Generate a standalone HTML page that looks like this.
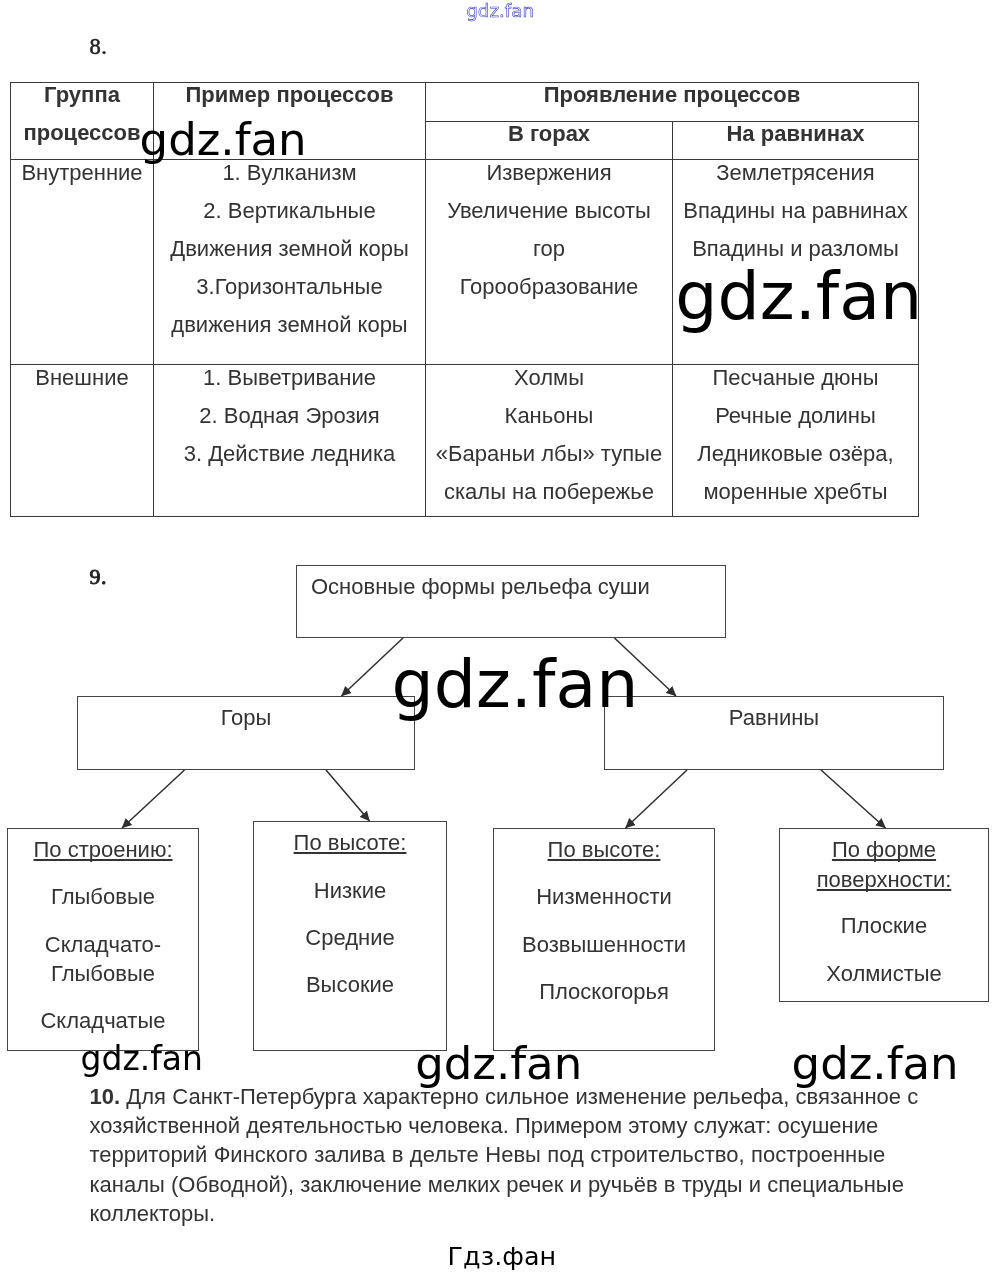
<!DOCTYPE html>
<html lang="ru">
<head>
<meta charset="utf-8">
<title>gdz.fan</title>
<style>
html,body{margin:0;padding:0;background:#fff;}
body{width:1000px;height:1276px;position:relative;overflow:hidden;font-family:"Liberation Sans",Arial,sans-serif;font-size:22px;color:#333;}
.abs{position:absolute;}
.ln{position:absolute;background:#3a3a3a;}
.c{position:absolute;text-align:center;white-space:nowrap;line-height:38px;}
.c div{height:38px;}
.b{font-weight:bold;}
.box{position:absolute;border:1px solid #444;box-sizing:border-box;}
.t{position:absolute;white-space:nowrap;text-align:center;line-height:29px;height:29px;}
.u{text-decoration:underline;text-decoration-skip-ink:none;text-decoration-thickness:2px;text-underline-offset:2px;}
.wm{position:absolute;font-family:"DejaVu Sans",Verdana,sans-serif;color:#000;white-space:nowrap;line-height:1;}
.p{position:absolute;left:89.5px;white-space:nowrap;line-height:29px;height:29px;color:#333;}
</style>
</head>
<body>
<div id="page" style="position:absolute;left:0;top:0;width:1000px;height:1276px;will-change:transform;">

<!-- top outline watermark -->
<div class="wm" id="wm0" style="left:466.2px;top:1.6px;font-size:18.3px;color:#f8f8ff;-webkit-text-stroke:0.6px #3c3cc8;">gdz.fan</div>

<div class="abs" id="n8" style="left:89.5px;top:35px;font-family:'Liberation Serif',serif;font-size:22.5px;line-height:24px;color:#222;-webkit-text-stroke:0.55px #222;letter-spacing:0.6px;">8.</div>

<!-- table lines -->
<div class="ln" style="left:10px;top:82px;width:909px;height:1px;"></div>
<div class="ln" style="left:425px;top:121px;width:494px;height:1px;"></div>
<div class="ln" style="left:10px;top:159px;width:909px;height:1px;"></div>
<div class="ln" style="left:10px;top:364px;width:909px;height:1px;"></div>
<div class="ln" style="left:10px;top:516px;width:909px;height:1px;"></div>
<div class="ln" style="left:10px;top:82px;width:1px;height:435px;"></div>
<div class="ln" style="left:153px;top:82px;width:1px;height:435px;"></div>
<div class="ln" style="left:425px;top:82px;width:1px;height:435px;"></div>
<div class="ln" style="left:672px;top:121px;width:1px;height:396px;"></div>
<div class="ln" style="left:918px;top:82px;width:1px;height:435px;"></div>

<!-- table header -->
<div class="c b" style="left:11px;width:142px;top:76px;"><div>Группа</div><div>процессов</div></div>
<div class="c b" style="left:154px;width:271px;top:76px;"><div>Пример процессов</div></div>
<div class="c b" style="left:426px;width:492px;top:76px;"><div>Проявление процессов</div></div>
<div class="c b" style="left:426px;width:246px;top:115px;"><div>В горах</div></div>
<div class="c b" style="left:673px;width:245px;top:115px;"><div>На равнинах</div></div>

<!-- row 1 -->
<div class="c" style="left:11px;width:142px;top:154px;"><div>Внутренние</div></div>
<div class="c" style="left:154px;width:271px;top:154px;"><div>1. Вулканизм</div><div>2. Вертикальные</div><div>Движения земной коры</div><div>3.Горизонтальные</div><div>движения земной коры</div></div>
<div class="c" style="left:426px;width:246px;top:154px;"><div>Извержения</div><div>Увеличение высоты</div><div>гор</div><div>Горообразование</div></div>
<div class="c" style="left:673px;width:245px;top:154px;"><div>Землетрясения</div><div>Впадины на равнинах</div><div>Впадины и разломы</div></div>

<!-- row 2 -->
<div class="c" style="left:11px;width:142px;top:359px;"><div>Внешние</div></div>
<div class="c" style="left:154px;width:271px;top:359px;"><div>1. Выветривание</div><div>2. Водная Эрозия</div><div>3. Действие ледника</div></div>
<div class="c" style="left:426px;width:246px;top:359px;"><div>Холмы</div><div>Каньоны</div><div>«Бараньи лбы» тупые</div><div>скалы на побережье</div></div>
<div class="c" style="left:673px;width:245px;top:359px;"><div>Песчаные дюны</div><div>Речные долины</div><div>Ледниковые озёра,</div><div>моренные хребты</div></div>

<div class="abs" id="n9" style="left:89.5px;top:565px;font-family:'Liberation Serif',serif;font-size:22px;line-height:24px;color:#222;-webkit-text-stroke:0.9px #222;letter-spacing:0.6px;">9.</div>

<!-- flow chart boxes -->
<div class="box" style="left:296px;top:565px;width:430px;height:73px;"></div>
<div class="box" style="left:77px;top:696px;width:338px;height:74px;"></div>
<div class="box" style="left:604px;top:696px;width:340px;height:74px;"></div>
<div class="box" style="left:7px;top:828px;width:192px;height:223px;"></div>
<div class="box" style="left:253px;top:821px;width:194px;height:230px;"></div>
<div class="box" style="left:493px;top:828px;width:222px;height:223px;"></div>
<div class="box" style="left:779px;top:828px;width:210px;height:174px;"></div>

<!-- arrows -->
<svg class="abs" style="left:0;top:0;" width="1000" height="1276" viewBox="0 0 1000 1276">
<defs>
<marker id="ah" viewBox="0 0 10 10" refX="9.6" refY="5" markerWidth="10" markerHeight="10" markerUnits="userSpaceOnUse" orient="auto"><path d="M0,0.2 L10,5 L0,9.8 Z" fill="#2e2e2e"/></marker>
</defs>
<g stroke="#2e2e2e" stroke-width="1.5" fill="none">
<line x1="403" y1="638" x2="341.500" y2="696" marker-end="url(#ah)"/>
<line x1="614.500" y1="638" x2="676" y2="696" marker-end="url(#ah)"/>
<line x1="184.500" y1="770" x2="122" y2="828" marker-end="url(#ah)"/>
<line x1="326" y1="770" x2="369.500" y2="821" marker-end="url(#ah)"/>
<line x1="687" y1="770" x2="625.500" y2="828" marker-end="url(#ah)"/>
<line x1="821" y1="770" x2="885.500" y2="828" marker-end="url(#ah)"/>
</g>
</svg>

<!-- flow chart text -->
<div class="t" style="left:311px;top:572px;">Основные формы рельефа суши</div>
<div class="t" style="left:77px;width:338px;top:703px;">Горы</div>
<div class="t" style="left:604px;width:340px;top:703px;">Равнины</div>

<div class="t u" style="left:7px;width:192px;top:835px;">По строению:</div>
<div class="t" style="left:7px;width:192px;top:882px;">Глыбовые</div>
<div class="t" style="left:7px;width:192px;top:930px;">Складчато-</div>
<div class="t" style="left:7px;width:192px;top:959px;">Глыбовые</div>
<div class="t" style="left:7px;width:192px;top:1006px;">Складчатые</div>

<div class="t u" style="left:253px;width:194px;top:828px;">По высоте:</div>
<div class="t" style="left:253px;width:194px;top:876px;">Низкие</div>
<div class="t" style="left:253px;width:194px;top:923px;">Средние</div>
<div class="t" style="left:253px;width:194px;top:970px;">Высокие</div>

<div class="t u" style="left:493px;width:222px;top:835px;">По высоте:</div>
<div class="t" style="left:493px;width:222px;top:882px;">Низменности</div>
<div class="t" style="left:493px;width:222px;top:930px;">Возвышенности</div>
<div class="t" style="left:493px;width:222px;top:977px;">Плоскогорья</div>

<div class="t u" style="left:779px;width:210px;top:835px;">По форме</div>
<div class="t u" style="left:779px;width:210px;top:865px;">поверхности:</div>
<div class="t" style="left:779px;width:210px;top:911px;">Плоские</div>
<div class="t" style="left:779px;width:210px;top:959px;">Холмистые</div>

<!-- paragraph 10 -->
<div class="p" style="top:1082px;word-spacing:0.15px;"><b>10.</b> Для Санкт-Петербурга характерно сильное изменение рельефа, связанное с</div>
<div class="p" style="top:1111px;">хозяйственной деятельностью человека. Примером этому служат: осушение</div>
<div class="p" style="top:1140px;word-spacing:0.33px;">территорий Финского залива в дельте Невы под строительство, построенные</div>
<div class="p" style="top:1170px;">каналы (Обводной), заключение мелких речек и ручьёв в труды и специальные</div>
<div class="p" style="top:1199px;">коллекторы.</div>

<!-- watermarks -->
<div class="wm" id="wm1" style="left:139.6px;top:117px;font-size:45px;">gdz.fan</div>
<div class="wm" id="wm2" style="left:675.3px;top:263px;font-size:66.5px;">gdz.fan</div>
<div class="wm" id="wm3" style="left:391.5px;top:650.5px;font-size:66.5px;">gdz.fan</div>
<div class="wm" id="wm4" style="left:80.5px;top:1042.2px;font-size:33px;">gdz.fan</div>
<div class="wm" id="wm5" style="left:415.2px;top:1041px;font-size:45px;">gdz.fan</div>
<div class="wm" id="wm6" style="left:791.6px;top:1041px;font-size:45px;">gdz.fan</div>
<div class="wm" id="wm7" style="left:447.6px;top:1244px;font-size:25.4px;">Гдз.фан</div>

</div>
</body>
</html>
